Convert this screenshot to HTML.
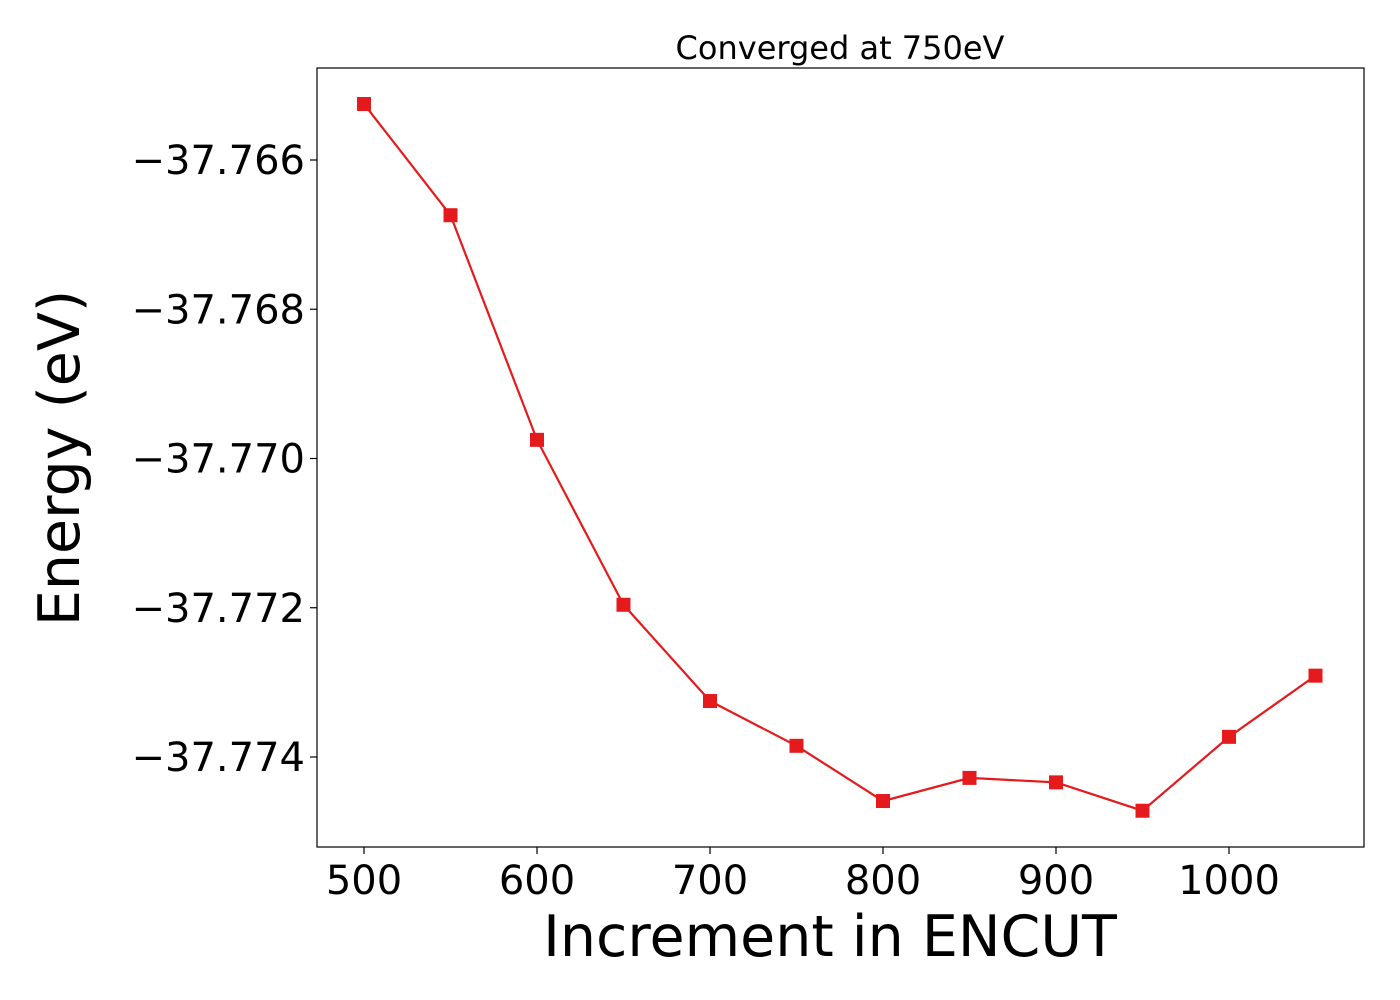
<!DOCTYPE html>
<html><head><meta charset="utf-8"><style>
html,body{margin:0;padding:0;background:#fff;}
svg{display:block;font-family:"DejaVu Sans","Liberation Sans",sans-serif;}
</style></head><body>
<svg id="chart" width="1400" height="1000">
<rect x="0" y="0" width="1400" height="1000" fill="#fff"/>
<text x="840" y="59" font-size="32" text-anchor="middle">Converged at 750eV</text>
<g id="xticks"></g>
<g id="yticks"></g>
<g id="series"></g>
<rect x="317" y="68" width="1047" height="779" fill="none" stroke="#000" stroke-width="1.2"/>
<text x="830" y="956" font-size="57" text-anchor="middle">Increment in ENCUT</text>
<text transform="translate(79,458) rotate(-90)" font-size="57" text-anchor="middle">Energy (eV)</text>
</svg>
<script>
const encut = [500,550,600,650,700,750,800,850,900,950,1000,1050];
const energy = [-37.76525,-37.76674,-37.76975,-37.77196,-37.77325,-37.77385,-37.77459,-37.77428,-37.77434,-37.77472,-37.77373,-37.77291];
const xTickValues = [500,600,700,800,900,1000];
const yTickValues = [-37.766,-37.768,-37.770,-37.772,-37.774];
const yTickLabels = ["\u221237.766","\u221237.768","\u221237.770","\u221237.772","\u221237.774"];

const NS="http://www.w3.org/2000/svg";
function xs(v){return 364+(v-500)*(1229-364)/500;}
function ys(v){return 160+(-37.766-v)*(757-160)/0.008;}
function mk(t,a){const e=document.createElementNS(NS,t);for(const k in a)e.setAttribute(k,a[k]);return e;}
const gx=document.getElementById('xticks'),gy=document.getElementById('yticks'),gs=document.getElementById('series');
xTickValues.forEach(v=>{
  const l=mk('line',{x1:xs(v),x2:xs(v),y1:847,y2:854,stroke:'#000','stroke-width':1.2});
  
  
  gx.appendChild(l);
  const t=mk('text',{x:xs(v),y:894,'font-size':40,'text-anchor':'middle'});
  t.textContent=v;
  
  
  gx.appendChild(t);
});
yTickValues.forEach((v,i)=>{
  const l=mk('line',{x1:310,x2:317,y1:ys(v),y2:ys(v),stroke:'#000','stroke-width':1.2});
  
  
  gy.appendChild(l);
  const t=mk('text',{x:305,y:ys(v)+14,'font-size':40,'text-anchor':'end'});
  t.textContent=yTickLabels[i];
  
  
  gy.appendChild(t);
});
const pts=encut.map((v,i)=>xs(v)+','+ys(energy[i])).join(' ');
const pl=mk('polyline',{points:pts,fill:'none',stroke:'#e41a1c','stroke-width':2.2});


gs.appendChild(pl);
encut.forEach((v,i)=>{
  const r=mk('rect',{x:xs(v)-7,y:ys(energy[i])-7,width:14,height:14,fill:'#e41a1c'});
  
  
  gs.appendChild(r);
});
</script>
</body></html>
